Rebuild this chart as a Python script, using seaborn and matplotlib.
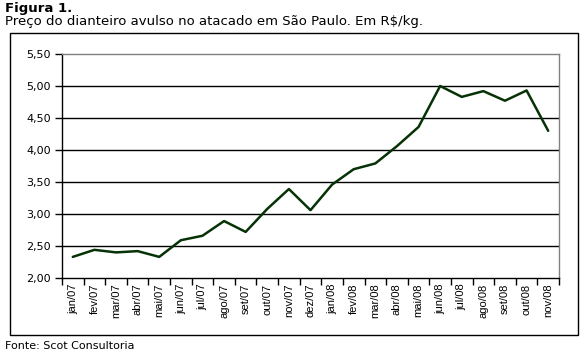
import pandas as pd
import matplotlib
matplotlib.use('Agg')
import matplotlib.pyplot as plt
import seaborn as sns
from matplotlib.patches import Rectangle
from matplotlib.ticker import FixedLocator, FuncFormatter

# dados
meses = ['jan/07', 'fev/07', 'mar/07', 'abr/07', 'mai/07', 'jun/07', 'jul/07', 'ago/07',
         'set/07', 'out/07', 'nov/07', 'dez/07', 'jan/08', 'fev/08', 'mar/08', 'abr/08',
         'mai/08', 'jun/08', 'jul/08', 'ago/08', 'set/08', 'out/08', 'nov/08']
precos = [2.33, 2.44, 2.40, 2.42, 2.33, 2.59, 2.66, 2.89, 2.72, 3.08, 3.39, 3.06,
          3.46, 3.70, 3.79, 4.06, 4.36, 5.00, 4.83, 4.92, 4.77, 4.93, 4.30]
y_ticks = [2.0, 2.5, 3.0, 3.5, 4.0, 4.5, 5.0, 5.5]

df = pd.DataFrame({'pos': range(len(meses)), 'mes': meses, 'preco': precos})

sns.set_style('white')
plt.rcParams['font.family'] = ['DejaVu Sans']
plt.rcParams['text.color'] = 'black'

fig = plt.figure(figsize=(5.85, 3.6), dpi=100)
ax = fig.add_axes([62 / 585, 82 / 360, 497 / 585, 224 / 360])

# moldura externa
fig.patches.append(Rectangle((10 / 585, 25 / 360), 568 / 585, 302 / 360,
                             transform=fig.transFigure, fill=False,
                             edgecolor='black', linewidth=1.0))

for y in y_ticks[1:-1]:
    ax.axhline(y, color='black', linewidth=1.0, zorder=1)

sns.lineplot(data=df, x='pos', y='preco', ax=ax, color='#063206', linewidth=1.8, zorder=3)

ax.set_xlim(-0.5, len(meses) - 0.5)
ax.set_ylim(2.0, 5.5)
ax.set_xlabel('')
ax.set_ylabel('')

ax.set_yticks(y_ticks)
ax.yaxis.set_major_formatter(FuncFormatter(lambda v, p: f'{v:.2f}'.replace('.', ',')))
ax.tick_params(axis='y', direction='out', length=5, width=1, color='black',
               labelsize=8, labelcolor='black', pad=3, left=True)

ax.set_xticks(df['pos'])
ax.set_xticklabels(meses, rotation=90, fontsize=8, family='Liberation Sans')
ax.tick_params(axis='x', which='major', length=0, pad=4, labelcolor='black')
ax.xaxis.set_minor_locator(FixedLocator([i - 0.5 for i in range(len(meses) + 1)]))
ax.tick_params(axis='x', which='minor', direction='out', length=5, width=1,
               color='black', bottom=True)

for lado in ['top', 'right']:
    ax.spines[lado].set_color('#808080')
    ax.spines[lado].set_linewidth(1.0)
for lado in ['left', 'bottom']:
    ax.spines[lado].set_color('black')
    ax.spines[lado].set_linewidth(1.0)

fig.text(5 / 585, 1 - 2 / 360, 'Figura 1.', fontsize=9.5, fontweight='bold', va='top', color='black')
fig.text(5 / 585, 1 - 15 / 360, 'Preço do dianteiro avulso no atacado em São Paulo. Em R$/kg.',
         fontsize=9.5, va='top', color='black')
fig.text(5 / 585, 1 - 341 / 360, 'Fonte: Scot Consultoria', fontsize=8, va='top', color='black')

fig.savefig('out.png', dpi=100)
